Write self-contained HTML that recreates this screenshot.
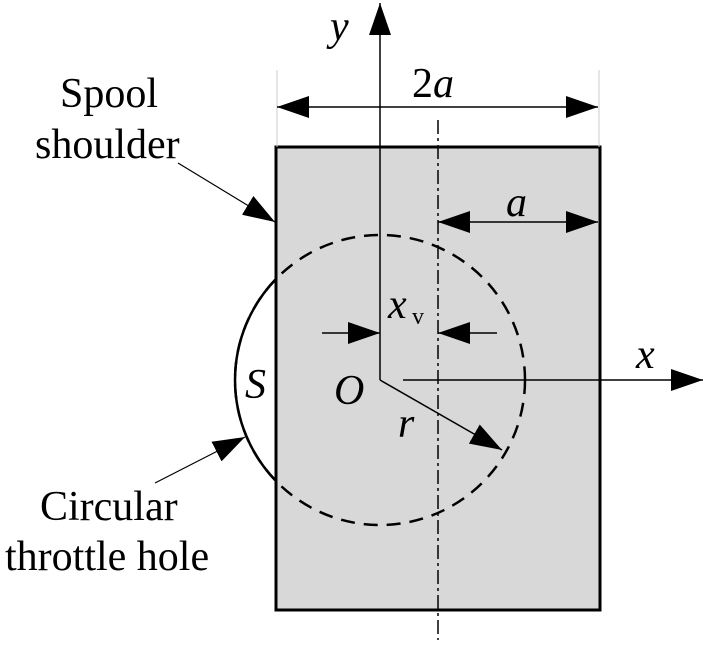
<!DOCTYPE html>
<html><head><style>body{margin:0;background:#fff}</style></head><body>
<svg width="707" height="644" viewBox="0 0 707 644" xmlns="http://www.w3.org/2000/svg" font-family="Liberation Serif, serif">
<defs>
<marker id="big" viewBox="0 0 32 22" refX="32" refY="11" markerWidth="32" markerHeight="22" markerUnits="userSpaceOnUse" orient="auto-start-reverse">
<path d="M0,0 L32,11 L0,22 Z" fill="#000"/></marker>
</defs>
<rect x="276" y="147" width="324" height="463" fill="#d8d8d8" stroke="#000" stroke-width="3"/>
<line x1="277" y1="70" x2="277" y2="147" stroke="#ccc" stroke-width="1"/>
<line x1="599" y1="70" x2="599" y2="147" stroke="#ccc" stroke-width="1"/>
<circle cx="380" cy="380" r="145" fill="none" stroke="#000" stroke-width="2.5" stroke-dasharray="14,9"/>
<path d="M276,279 A145,145 0 0 0 276,481" fill="none" stroke="#000" stroke-width="2.5"/>
<line x1="438" y1="120" x2="438" y2="640" stroke="#000" stroke-width="1.5" stroke-dasharray="14,4,3,4"/>
<line x1="380" y1="380" x2="380" y2="3" stroke="#000" stroke-width="1.5" marker-end="url(#big)"/>
<line x1="403" y1="380" x2="703" y2="380" stroke="#000" stroke-width="1.5" marker-end="url(#big)"/>
<line x1="277" y1="107" x2="598" y2="107" stroke="#000" stroke-width="1.5" marker-start="url(#big)" marker-end="url(#big)"/>
<line x1="438" y1="222" x2="598" y2="222" stroke="#000" stroke-width="1.5" marker-start="url(#big)" marker-end="url(#big)"/>
<line x1="322" y1="333" x2="380" y2="333" stroke="#000" stroke-width="1.5" marker-end="url(#big)"/>
<line x1="497" y1="333" x2="438" y2="333" stroke="#000" stroke-width="1.5" marker-end="url(#big)"/>
<line x1="380" y1="380" x2="502" y2="450" stroke="#000" stroke-width="1.5" marker-end="url(#big)"/>
<line x1="178" y1="163" x2="275" y2="222" stroke="#000" stroke-width="1.2" marker-end="url(#big)"/>
<line x1="155" y1="483" x2="245" y2="437" stroke="#000" stroke-width="1.2" marker-end="url(#big)"/>
<g font-size="42" fill="#000">
<text x="60" y="107">Spool</text>
<text x="35" y="158">shoulder</text>
<text x="40" y="520">Circular</text>
<text x="5" y="570">throttle hole</text>
</g>
<g font-size="42" font-style="italic" fill="#000">
<text x="330" y="40">y</text>
<text x="412" y="97" font-style="normal">2<tspan font-style="italic">a</tspan></text>
<text x="506" y="216">a</text>
<text x="388" y="318">x</text><text x="412" y="324" font-size="24" font-style="normal">v</text>
<text x="636" y="368">x</text>
<text x="245" y="398">S</text>
<text x="334" y="404">O</text>
<text x="398" y="437">r</text>
</g>
</svg>
</body></html>
